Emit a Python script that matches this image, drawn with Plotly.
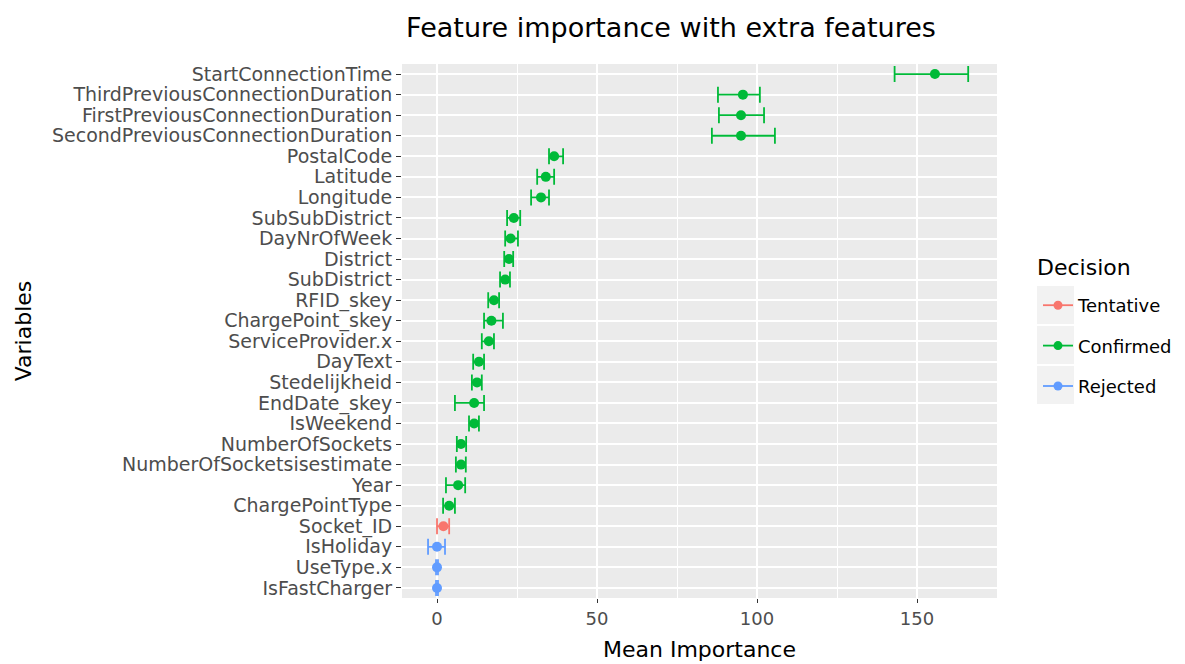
import plotly.graph_objects as go

variables = [
    "StartConnectionTime", "ThirdPreviousConnectionDuration", "FirstPreviousConnectionDuration",
    "SecondPreviousConnectionDuration", "PostalCode", "Latitude", "Longitude", "SubSubDistrict",
    "DayNrOfWeek", "District", "SubDistrict", "RFID_skey", "ChargePoint_skey", "ServiceProvider.x",
    "DayText", "Stedelijkheid", "EndDate_skey", "IsWeekend", "NumberOfSockets",
    "NumberOfSocketsisestimate", "Year", "ChargePointType", "Socket_ID", "IsHoliday",
    "UseType.x", "IsFastCharger",
]
mean_imp = [155.6, 95.6, 95.0, 95.0, 36.6, 34.0, 32.5, 24.0, 23.0, 22.5, 21.3, 17.8, 17.0, 16.2,
            13.1, 12.5, 11.6, 11.6, 7.5, 7.5, 6.6, 3.8, 2.0, 0.0, 0.0, 0.0]
min_imp = [143.0, 87.8, 88.1, 85.9, 35.0, 31.3, 29.4, 21.9, 21.3, 21.0, 19.7, 16.0, 14.7, 14.0,
           11.3, 10.9, 5.6, 10.0, 6.2, 5.9, 2.8, 1.9, 0.0, -2.8, -0.3, -0.3]
max_imp = [166.0, 100.9, 102.2, 105.6, 39.4, 36.6, 35.0, 26.0, 25.3, 23.8, 22.8, 19.4, 20.6, 17.8,
           14.7, 14.0, 14.7, 13.1, 9.1, 9.0, 8.8, 5.6, 3.8, 2.5, 0.3, 0.3]
decision = ["Confirmed"] * 22 + ["Tentative"] + ["Rejected"] * 3

decision_levels = ["Tentative", "Confirmed", "Rejected"]
decision_colors = {"Tentative": "#F8766D", "Confirmed": "#00BA38", "Rejected": "#619CFF"}

FONT = "DejaVu Sans"

fig = go.Figure()
for lvl in decision_levels:
    idx = [i for i, d in enumerate(decision) if d == lvl]
    xs = [mean_imp[i] for i in idx]
    ys = [variables[i] for i in idx]
    plus = [max_imp[i] - mean_imp[i] for i in idx]
    minus = [mean_imp[i] - min_imp[i] for i in idx]
    c = decision_colors[lvl]
    fig.add_trace(go.Scatter(
        x=xs, y=ys, mode="markers", showlegend=False,
        marker=dict(color=c, size=10),
        error_x=dict(type="data", symmetric=False, array=plus, arrayminus=minus,
                     color=c, thickness=1.8, width=8),
        name=lvl, legendgroup=lvl,
    ))
    fig.add_trace(go.Scatter(
        x=[None], y=[None], mode="lines+markers", name=lvl, legendgroup=lvl,
        line=dict(color=c, width=1.8), marker=dict(color=c, size=9),
    ))

# panel geometry in pixels
L, R, T, B = 402, 997, 64, 598
W, H = 1185, 664
pw, ph = R - L, B - T

def px_x(p):
    return (p - L) / pw

def px_y(p):
    return (B - p) / ph

shapes = []
for top in (286, 326, 366):
    shapes.append(dict(type="rect", xref="paper", yref="paper",
                       x0=px_x(1037), x1=px_x(1074), y0=px_y(top + 38), y1=px_y(top),
                       fillcolor="#F2F2F2", line=dict(width=0), layer="below"))

fig.update_layout(
    width=W, height=H,
    margin=dict(l=L, r=W - R, t=T, b=H - B, autoexpand=False),
    paper_bgcolor="white", plot_bgcolor="#EBEBEB",
    font=dict(family=FONT, color="black"),
    title=dict(text="Feature importance with extra features", x=671 / W, xanchor="center",
               y=1 - 28 / H, yanchor="middle", xref="container", yref="container",
               font=dict(size=27, color="black", family=FONT)),
    xaxis=dict(range=[-10.94, 175], tickvals=[0, 50, 100, 150], ticks="outside", ticklen=4,
               tickcolor="#333333", tickwidth=1.2, showline=False, zeroline=False,
               gridcolor="white", gridwidth=1.6,
               minor=dict(tickvals=[25, 75, 125, 175], showgrid=True, gridcolor="white", gridwidth=0.8),
               tickfont=dict(size=18, color="#4D4D4D", family=FONT),
               title=dict(text="Mean Importance", font=dict(size=22, color="black", family=FONT),
                          standoff=14)),
    yaxis=dict(type="category", categoryorder="array", categoryarray=variables,
               tickmode="array", tickvals=variables, ticktext=variables,
               range=[25.49, -0.49], ticks="outside", ticklen=5, tickcolor="#333333", tickwidth=1.2,
               showline=False, zeroline=False, gridcolor="white", gridwidth=1.6,
               tickfont=dict(size=19, color="#4D4D4D", family=FONT),
               title=dict(text="Variables", font=dict(size=22, color="black", family=FONT),
                          standoff=14)),
    legend=dict(x=px_x(1038), xanchor="left", y=px_y(287), yanchor="top",
                bgcolor="rgba(0,0,0,0)", tracegroupgap=14,
                font=dict(size=18, color="black", family=FONT)),
    annotations=[dict(text="Decision", xref="paper", yref="paper", x=px_x(1035), y=px_y(267),
                      xanchor="left", yanchor="middle", showarrow=False,
                      font=dict(size=22, color="black", family=FONT))],
    shapes=shapes,
)

fig.write_html("out.html", config={"displayModeBar": False},
               post_script="document.body.style.margin='0';")
